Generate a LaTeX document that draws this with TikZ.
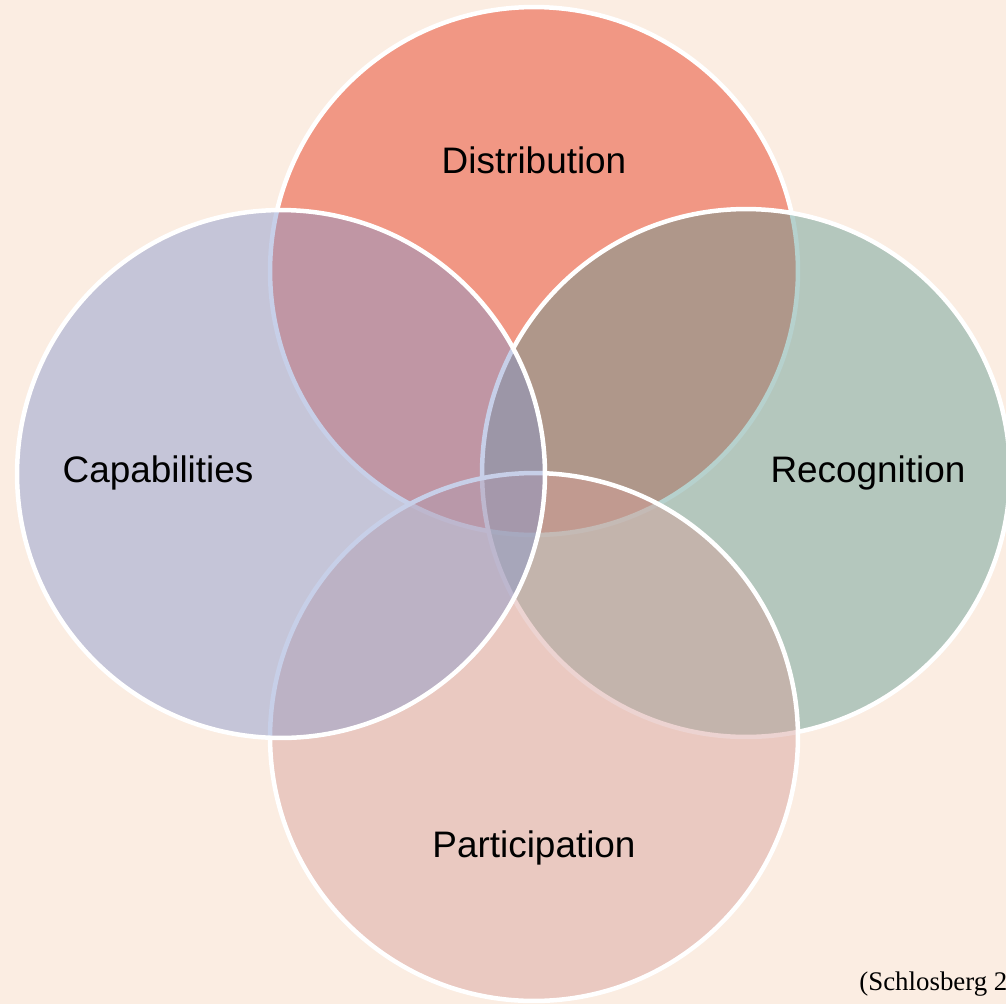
\documentclass[tikz,border=0pt]{standalone}
\usepackage{fontspec}
\setmainfont{Liberation Sans}
\newfontfamily\citefont{Liberation Serif}
\usetikzlibrary{positioning}
\definecolor{paper}{RGB}{251,237,226}
\definecolor{distred}{RGB}{229,48,19}
\definecolor{recoteal}{RGB}{95,153,146}
\definecolor{partrose}{RGB}{215,159,153}
\definecolor{capablue}{RGB}{133,150,204}
\tikzset{
  venn/.style={fill=#1,fill opacity=0.45,draw=white,draw opacity=1,line width=0.09cm},
  venn/.default=capablue,
  venn label/.style={font=\fontsize{21}{25}\selectfont,text=black,inner sep=0pt},
  cite/.style={font=\citefont\fontsize{15.3}{18}\selectfont,anchor=base west,inner sep=0pt},
}

\begin{document}
\begin{tikzpicture}[x=0.02cm,y=-0.02cm]
  \fill[paper] (0,0) rectangle (1006,1004);
  \useasboundingbox (0,0) rectangle (1006,1004);
  \begin{scope}
    \clip (0,0) rectangle (1006,1004);
    % back to front: top, right, bottom, left
    \foreach \n/\c/\x/\y in {dist/distred/534/271, reco/recoteal/746/473,
                              part/partrose/534/737, capa/capablue/281/474}
      \draw[venn=\c] (\x,\y) coordinate (\n) circle (5.28cm);
  \end{scope}
  \node[venn label] (distlbl) at (534,160) {Distribution};
  \node[venn label] (recolbl) at (868,473) {Recognition};
  \node[venn label] (partlbl) at (534,848) {Participation};
  \node[venn label] (capalbl) at (158,473) {Capabilities};
  \node[cite] (src) at (859,990) {(Schlosberg 2};
\end{tikzpicture}
\end{document}
